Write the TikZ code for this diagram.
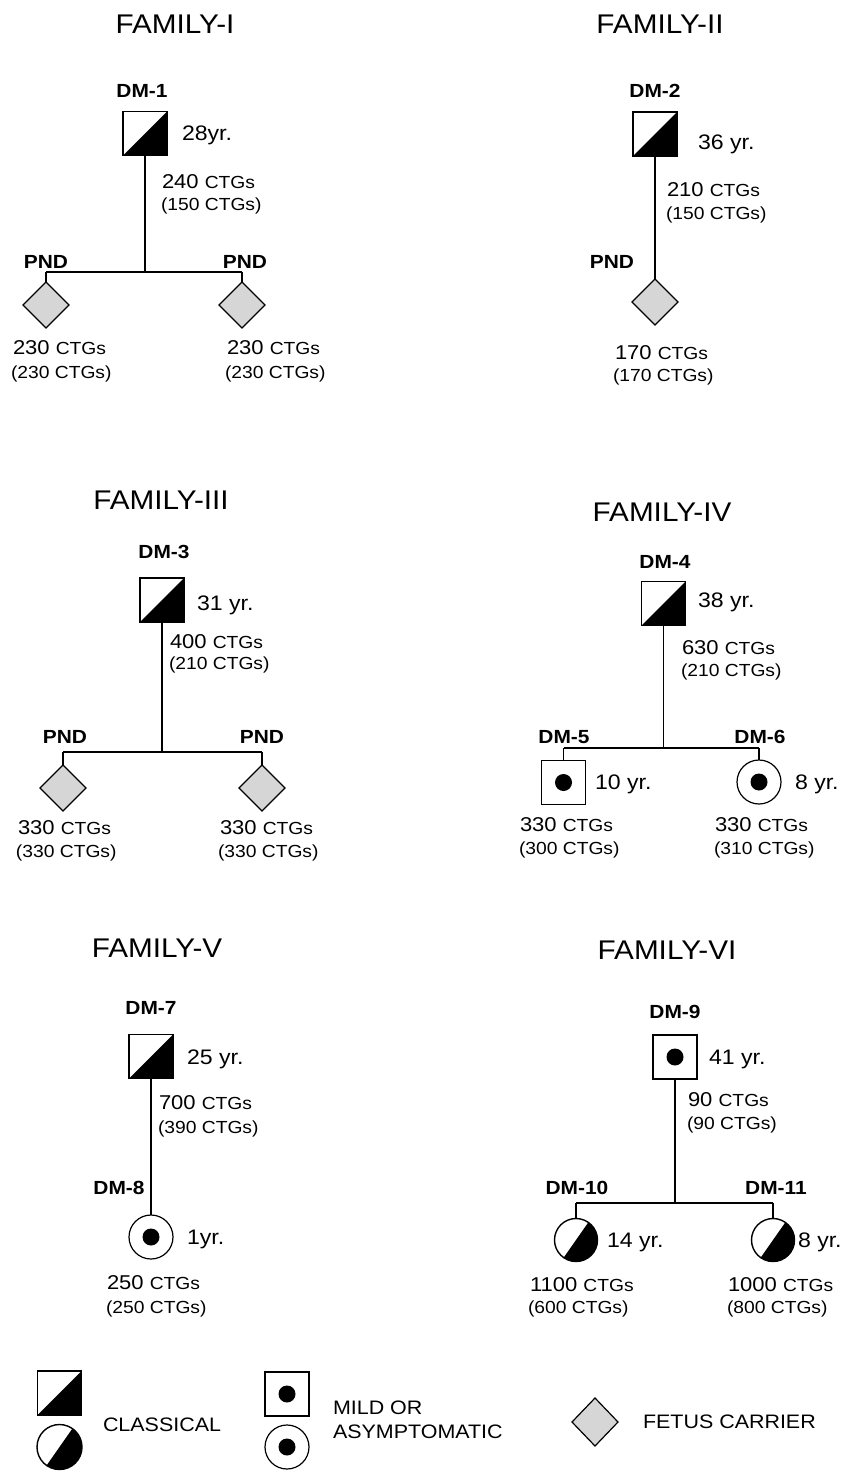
\documentclass[tikz,border=0pt]{standalone}
\usepackage{fontspec}
\setmainfont{Liberation Sans}[FakeStretch=1.1]
\usetikzlibrary{shapes.geometric}

\newcommand\setfs[1]{\fontsize{#1}{#1}\selectfont}

\tikzset{
  every node/.style={inner sep=0pt, outer sep=0pt},
  famtitle/.style={font=\setfs{27}},
  idlab/.style={font=\bfseries\setfs{19}, text depth=0pt},
  lbl/.style={anchor=west, text depth=0pt, font=\setfs{20}},
  agelbl/.style={anchor=west, text depth=0pt, font=\setfs{21}},
  sub/.style={anchor=west, text depth=0pt, font=\setfs{17.5}},
  legtxt/.style={anchor=west, text depth=0pt, font=\setfs{19.5}},
  link/.style={line width=1.1pt},
  classq/.style={rectangle, draw, line width=1.4pt, minimum size=44pt,
    path picture={\fill (path picture bounding box.south west) --
      (path picture bounding box.north east) --
      (path picture bounding box.south east) -- cycle;}},
  classc/.style={circle, draw, line width=1.4pt, minimum size=43pt,
    path picture={\fill ([shift={(235:40pt)}]path picture bounding box.center) --
      ([shift={(55:40pt)}]path picture bounding box.center) --
      ([shift={(-35:40pt)}]path picture bounding box.center) -- cycle;}},
  mildsq/.style={rectangle, draw, line width=1.2pt, minimum size=44pt,
    path picture={\fill (path picture bounding box.center) circle (8.5pt);}},
  mildc/.style={circle, draw, line width=1.2pt, minimum size=44pt,
    path picture={\fill (path picture bounding box.center) circle (8.5pt);}},
  fetus/.style={diamond, draw, line width=1.2pt, fill=gray!32, aspect=1,
    minimum width=46pt, minimum height=46pt},
}

% repeat-length pair: "N CTGs" over "(M CTGs)"
\newcommand\ctgpair[7]{%
  \node[lbl] (#1a) at (#2,#3) {#6 {\setfs{17.5}CTGs}};
  \node[sub] (#1b) at (#4,#5) {(#7 CTGs)};}

\begin{document}
\begin{tikzpicture}[x=1pt, y=-1pt]
\useasboundingbox (0,0) rectangle (849,1472);

% ---------------- FAMILY-I ----------------
\node[famtitle] (t1) at (175,24) {FAMILY-I};
\node[idlab] (id1) at (142,91) {DM-1};
\node[classq] (p1) at (145,133.5) {};
\node[agelbl] (a1) at (182,133) {28yr.};
\ctgpair{c1}{162}{182}{161}{204}{240}{150}
\coordinate (s1l) at (46,272);
\coordinate (s1r) at (242,272);
\node[idlab] (pnd1a) at (46,262) {PND};
\node[idlab] (pnd1b) at (245,262) {PND};
\node[fetus] (f1a) at (46,305) {};
\node[fetus] (f1b) at (242,305) {};
\draw[link] (p1.south) -- (p1.south |- s1l);
\draw[link] (s1l) -- (s1r);
\draw[link] (s1l) -- (f1a.north);
\draw[link] (s1r) -- (f1b.north);
\ctgpair{c1l}{13}{348}{11}{372}{230}{230}
\ctgpair{c1r}{227}{348}{225}{372}{230}{230}

% ---------------- FAMILY-II ----------------
\node[famtitle] (t2) at (660,24) {FAMILY-II};
\node[idlab] (id2) at (655,91) {DM-2};
\node[classq] (p2) at (655,134) {};
\node[agelbl] (a2) at (698,142) {36 yr.};
\ctgpair{c2}{667}{190}{666}{213}{210}{150}
\node[idlab] (pnd2) at (612,262) {PND};
\node[fetus] (f2) at (655,302) {};
\draw[link] (p2.south) -- (f2.north);
\ctgpair{c2f}{615}{353}{613}{375}{170}{170}

% ---------------- FAMILY-III ----------------
\node[famtitle] (t3) at (161,500) {FAMILY-III};
\node[idlab] (id3) at (164,552) {DM-3};
\node[classq] (p3) at (162,600) {};
\node[agelbl] (a3) at (197,603) {31 yr.};
\ctgpair{c3}{170}{642}{169}{663}{400}{210}
\coordinate (s3l) at (63,752);
\coordinate (s3r) at (262,752);
\node[idlab] (pnd3a) at (65,737) {PND};
\node[idlab] (pnd3b) at (262,737) {PND};
\node[fetus] (f3a) at (63,788) {};
\node[fetus] (f3b) at (262,788) {};
\draw[link] (p3.south) -- (p3.south |- s3l);
\draw[link] (s3l) -- (s3r);
\draw[link] (s3l) -- (f3a.north);
\draw[link] (s3r) -- (f3b.north);
\ctgpair{c3l}{18}{828}{16}{851}{330}{330}
\ctgpair{c3r}{220}{828}{218}{851}{330}{330}

% ---------------- FAMILY-IV ----------------
\node[famtitle] (t4) at (662,512) {FAMILY-IV};
\node[idlab] (id4) at (665,562) {DM-4};
\node[classq] (p4) at (663.5,603.5) {};
\node[agelbl] (a4) at (698,600) {38 yr.};
\ctgpair{c4}{682}{648}{681}{670}{630}{210}
\coordinate (s4l) at (563.5,748);
\coordinate (s4r) at (759,748);
\node[idlab] (id5) at (564,737) {DM-5};
\node[idlab] (id6) at (760,737) {DM-6};
\node[mildsq] (p5) at (563.5,782.5) {};
\node[mildc] (p6) at (759,782) {};
\node[agelbl] (a5) at (595,782) {10 yr.};
\node[agelbl] (a6) at (795,782) {8 yr.};
\draw[link] (p4.south) -- (p4.south |- s4l);
\draw[link] (s4l) -- (s4r);
\draw[link] (s4l) -- (p5.north);
\draw[link] (s4r) -- (p6.north);
\ctgpair{c5}{520}{825}{519}{848}{330}{300}
\ctgpair{c6}{715}{825}{714}{848}{330}{310}

% ---------------- FAMILY-V ----------------
\node[famtitle] (t5) at (157,948) {FAMILY-V};
\node[idlab] (id7) at (151,1008) {DM-7};
\node[classq] (p7) at (151,1056.5) {};
\node[agelbl] (a7) at (187,1057) {25 yr.};
\ctgpair{c7}{159}{1103}{158}{1127}{700}{390}
\node[idlab] (id8) at (119,1188) {DM-8};
\node[mildc] (p8) at (151,1237) {};
\node[agelbl] (a8) at (187,1237) {1yr.};
\draw[link] (p7.south) -- (p8.north);
\ctgpair{c8}{107}{1283}{106}{1307}{250}{250}

% ---------------- FAMILY-VI ----------------
\node[famtitle] (t6) at (667,950) {FAMILY-VI};
\node[idlab] (id9) at (675,1012) {DM-9};
\node[mildsq] (p9) at (675,1057) {};
\node[agelbl] (a9) at (709,1057) {41 yr.};
\ctgpair{c9}{688}{1100}{687}{1123}{90}{90}
\coordinate (s6l) at (576,1203);
\coordinate (s6r) at (773,1203);
\node[idlab] (id10) at (577,1188) {DM-10};
\node[idlab] (id11) at (776,1188) {DM-11};
\node[classc] (p10) at (576,1240) {};
\node[classc] (p11) at (773,1240) {};
\node[agelbl] (a10) at (607,1240) {14 yr.};
\node[agelbl] (a11) at (798,1240) {8 yr.};
\draw[link] (p9.south) -- (p9.south |- s6l);
\draw[link] (s6l) -- (s6r);
\draw[link] (s6l) -- (p10.north);
\draw[link] (s6r) -- (p11.north);
\ctgpair{c10}{530}{1285}{528}{1307}{1100}{600}
\ctgpair{c11}{728}{1285}{727}{1307}{1000}{800}

% ---------------- legend ----------------
\node[classq] (lg1) at (59.5,1393) {};
\node[classc, minimum size=45pt] (lg2) at (59.5,1447) {};
\node[legtxt] (lgt1) at (103,1425) {CLASSICAL};
\node[mildsq] (lg3) at (287,1394) {};
\node[mildc] (lg4) at (287,1447) {};
\node[legtxt] (lgt2) at (333,1408) {MILD OR};
\node[legtxt] (lgt3) at (333,1432) {ASYMPTOMATIC};
\node[fetus, minimum height=48pt] (lg5) at (595,1422) {};
\node[legtxt] (lgt4) at (643,1422) {FETUS CARRIER};
\end{tikzpicture}
\end{document}
